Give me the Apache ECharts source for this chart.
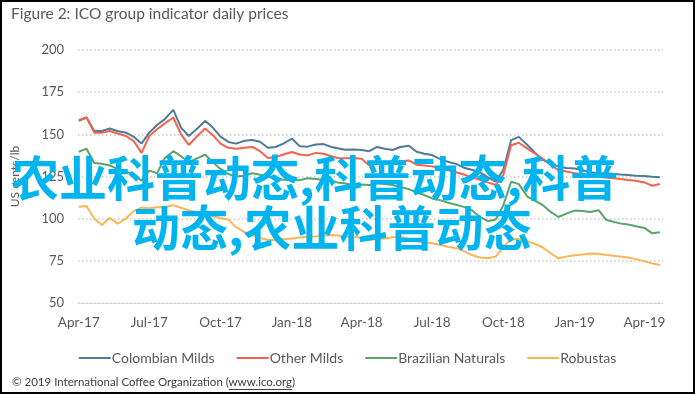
<!DOCTYPE html>
<html>
<head>
<meta charset="utf-8">
<script src="https://cdn.jsdelivr.net/npm/echarts@6/dist/echarts.min.js"></script>
<style>
html,body{margin:0;padding:0;background:#fff;}
#chart{width:695px;height:394px;}
</style>
</head>
<body>
<div id="chart"></div>
<script>
// Observation dates (1st, 11th, 21st of each month)
var dates = [
"2017-04-01","2017-04-11","2017-04-21","2017-05-01","2017-05-11","2017-05-21",
"2017-06-01","2017-06-11","2017-06-21","2017-07-01","2017-07-11","2017-07-21",
"2017-08-01","2017-08-11","2017-08-21","2017-09-01","2017-09-11","2017-09-21",
"2017-10-01","2017-10-11","2017-10-21","2017-11-01","2017-11-11","2017-11-21",
"2017-12-01","2017-12-11","2017-12-21","2018-01-01","2018-01-11","2018-01-21",
"2018-02-01","2018-02-11","2018-02-21","2018-03-01","2018-03-11","2018-03-21",
"2018-04-01","2018-04-11","2018-04-21","2018-05-01","2018-05-11","2018-05-21",
"2018-06-01","2018-06-11","2018-06-21","2018-07-01","2018-07-11","2018-07-21",
"2018-08-01","2018-08-11","2018-08-21","2018-09-01","2018-09-11","2018-09-21",
"2018-10-01","2018-10-11","2018-10-21","2018-11-01","2018-11-11","2018-11-21",
"2018-12-01","2018-12-11","2018-12-21","2019-01-01","2019-01-11","2019-01-21",
"2019-02-01","2019-02-11","2019-02-21","2019-03-01","2019-03-11","2019-03-21",
"2019-04-01","2019-04-11","2019-04-21"
];
var colombianMilds = [
158,160,152,152,153.5,152,151,148.5,144.5,151,155.5,159,
164.5,154,149,153.5,158,154,148.6,145.5,144.5,146.2,146.6,145.6,
142,142.5,144.5,147.5,143,142.7,144,144.2,142.5,141.7,140.8,141,
140.7,140,142.5,141.5,140.7,142.5,143.2,139.7,138.5,137.7,135.5,133.8,
132.5,130.2,129,127.5,124.5,122,129,146.6,148.5,143.7,139,134.8,
132.5,131,130,129.8,128.8,127.5,127,126.9,126.5,126.2,125.9,125.5,
125.3,124.8,124.5
];
var otherMilds = [
158.5,160,151,151,152,150.5,149,146,139,149,153,156.5,
160,150,143.7,149,153.5,149.5,144.5,142,141.5,142,142.5,140,
136,136.5,138,139.5,138,137.5,139,138.5,137,136,135.8,136,
135.5,131.5,134,133.5,132.8,134,134.5,132,131.5,131,130,128.8,
127.5,126.2,124.5,123,121.5,120,126,143.5,145,141.5,138.5,135.5,
132,128.8,128,127,126.5,125.2,125,124.2,124,123.5,122.9,122.5,
121.5,119.5,120.5
];
var brazilianNaturals = [
139.7,141.5,133,132.5,131.5,129.5,128,126,122.5,128.5,127,136,
140,137,133.5,135.8,138,133.5,129.5,126.5,125,125.5,126.9,126,
125,124.5,123,122.9,122.8,124,123.5,123,122.5,121.5,120.9,120,
120.2,120,121,120.5,120,118.8,117.5,115.5,114,112,111,109.5,
108.2,107,105.1,101,98.5,99.5,108,121.9,120.5,113,110.5,108,
104,101,103,104.8,104.5,104,105,99.2,98,97.2,96.5,95.5,
94.5,91.3,92
];
var robustas = [
107,107.5,100,96.2,100.5,97,100.2,104.5,106.5,106.2,106.8,106.8,
108,106.5,105,103.5,102.5,101.5,100.2,99.5,95,92,90.3,88.5,
87.3,87.3,87.8,88.3,88.8,89.3,89.5,89.8,90.3,90,89.5,89.3,
88.5,87.3,88,88.3,89,89.3,88,86.4,86,85.4,84.5,83.4,
82.5,80.8,78.5,77,76.5,77.5,83,88.3,87.8,86.6,85,82.9,
79.5,76.5,77.5,78.3,78.8,79.4,79.2,78.5,78,77.5,77,76,
74.8,73.5,72.5
];
var seriesNames = ["Colombian Milds","Other Milds","Brazilian Naturals","Robustas"];
var seriesColors = ["#4f7b97","#f5624d","#5aa46b","#fdb553"];
var tickDates = ["2017-04-01","2017-07-01","2017-10-01","2018-01-01","2018-04-01","2018-07-01","2018-10-01","2019-01-01","2019-04-01"];
var yTicks = [50,75,100,125,150,175,200];
var titleText = "Figure 2: ICO group indicator daily prices";
var yAxisTitle = "US cents/lb";
var footerPre = "\u00a9 2019 International Coffee Organization (";
var footerLink = "www.ico.org";
var footerPost = ")";
var watermark1 = "农业科普动态,科普动态,科普";
var watermark2 = "动态,农业科普动态";

function ts(s){var p=s.split('-');return Date.UTC(+p[0],+p[1]-1,+p[2]);}
var monthNames=["Jan","Feb","Mar","Apr","May","Jun","Jul","Aug","Sep","Oct","Nov","Dec"];
function fmt(v){var d=new Date(v);return monthNames[d.getUTCMonth()]+'-'+String(d.getUTCFullYear()).slice(2);}
var allData=[colombianMilds,otherMilds,brazilianNaturals,robustas];
var series=allData.map(function(arr,i){
  return {name:seriesNames[i],type:'line',showSymbol:false,symbol:'none',
    data:dates.map(function(d,j){return [ts(d),arr[j]];}),
    lineStyle:{width:2,color:seriesColors[i]},itemStyle:{color:seriesColors[i]},
    z:2+i, animation:false};
});

// measure footer pieces for underline
var footFont='11.5px Lato';
var mctx=document.createElement('canvas').getContext('2d');
mctx.font=footFont;
var preW=mctx.measureText(footerPre).width;
var linkW=mctx.measureText(footerLink).width;
var footX=12, footY=376;

var chart=echarts.init(document.getElementById('chart'),null,{renderer:'canvas'});
chart.setOption({
  animation:false,
  backgroundColor:'#ffffff',
  grid:{left:78,right:32,top:50,bottom:91},
  xAxis:{type:'value',min:ts('2017-03-31'),max:ts('2019-04-25'),
    axisLine:{show:true,lineStyle:{color:'#d9d9d9',width:1}},
    axisTick:{show:false},splitLine:{show:false},
    axisLabel:{customValues:tickDates.map(ts),formatter:fmt,color:'#595959',fontSize:13.5,
      fontFamily:'Lato',margin:13}
  },
  yAxis:{type:'value',min:yTicks[0],max:yTicks[yTicks.length-1],interval:25,
    name:yAxisTitle,nameLocation:'middle',nameRotate:90,nameGap:57,
    nameTextStyle:{color:'#595959',fontSize:12,fontFamily:'Lato'},
    axisLine:{show:false},axisTick:{show:false},
    axisLabel:{color:'#595959',fontSize:13,fontFamily:'Lato',margin:14},
    splitLine:{show:true,lineStyle:{color:'#c9c9c9',type:[1.5,2.5],width:1.5}}
  },
  legend:{top:346,left:'center',itemWidth:32,itemHeight:2,icon:'rect',itemGap:22,
    textStyle:{color:'#595959',fontSize:14,fontFamily:'Lato',padding:[0,0,0,-4]},
    data:seriesNames},
  graphic:[
    {type:'rect',shape:{x:1,y:1,width:693,height:392},style:{fill:'none',stroke:'#000',lineWidth:2},z:100},
    {type:'text',left:11,top:6,style:{text:titleText,fill:'#595959',font:'15.5px Lato'}},
    {type:'text',x:footX,y:footY,style:{text:footerPre+footerLink+footerPost,fill:'#404040',font:footFont}},
    {type:'line',shape:{x1:footX+preW,y1:footY+13.5,x2:footX+preW+linkW,y2:footY+13.5},style:{stroke:'#404040',lineWidth:1}},
    {type:'text',x:11,y:178,z:200,style:{text:watermark1,fill:'#00b4ef',font:'bold 48px "Noto Sans CJK SC"',textVerticalAlign:'middle'}},
    {type:'text',x:132,y:228,z:200,style:{text:watermark2,fill:'#00b4ef',font:'bold 48px "Noto Sans CJK SC"',textVerticalAlign:'middle'}}
  ],
  series:series
});
</script>
</body>
</html>
